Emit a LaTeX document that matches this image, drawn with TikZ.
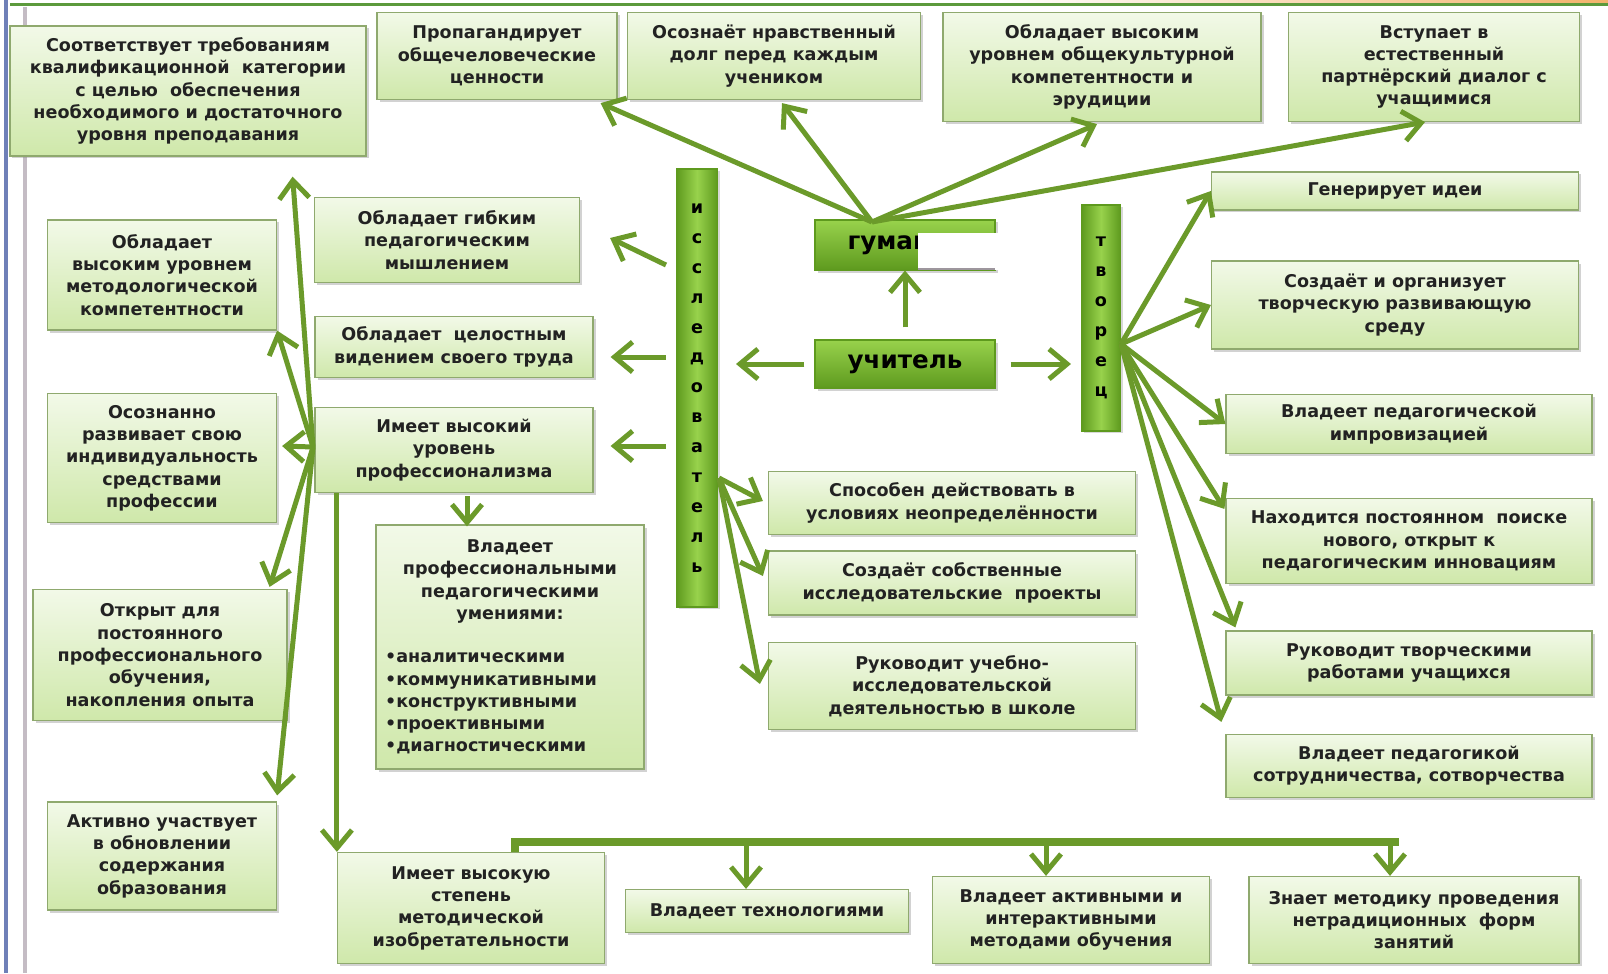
\documentclass[tikz,border=0pt]{standalone}
\usepackage{fontspec}
\setmainfont{DejaVu Sans}
\usetikzlibrary{arrows.meta,shadows,calc}
\definecolor{leaf}{HTML}{6B9A2A}
\definecolor{boxtop}{HTML}{F2F9E8}
\definecolor{boxbot}{HTML}{CFE8AA}
\definecolor{boxline}{HTML}{8FA96E}
\definecolor{barlight}{HTML}{98D24C}
\definecolor{bardark}{HTML}{5E9A1E}
\definecolor{inktext}{HTML}{222222}
\definecolor{slideblue}{HTML}{6F80B8}
\definecolor{slidegray}{HTML}{C4BCC4}
\definecolor{slidegreen}{HTML}{5C9A3C}
\definecolor{slidepeach}{HTML}{F3B36B}

\begin{document}
\begin{tikzpicture}[
    x=0.02cm, y=-0.02cm,
    wh/.style 2 args={minimum width=#1*0.02cm, minimum height=#2*0.02cm},
    box/.style={draw=boxline, line width=0.7pt, top color=boxtop, bottom color=boxbot,
                text=inktext, align=center, inner sep=1pt,
                font=\bfseries\fontsize{10}{12.7}\selectfont,
                drop shadow={shadow xshift=0.05cm, shadow yshift=-0.05cm, opacity=0.35}},
    bar/.style={draw=bardark, line width=0.6pt, left color=bardark, right color=bardark,
                middle color=barlight, align=center, inner sep=0pt, text=black,
                font=\bfseries\fontsize{10}{17}\selectfont,
                drop shadow={shadow xshift=0.04cm, shadow yshift=-0.04cm, opacity=0.3}},
    hub/.style={draw=bardark, line width=0.6pt, top color=barlight, bottom color=bardark,
                text=black, font=\bfseries\fontsize{14}{17}\selectfont,
                drop shadow={shadow xshift=0.05cm, shadow yshift=-0.05cm, opacity=0.35}},
    arr/.style={leaf, line width=0.1cm, -{Straight Barb[length=0.36cm, width=0.6cm]}},
    bus/.style={leaf, line width=0.15cm}
  ]
    \useasboundingbox (0,0) rectangle (1608,973);
    \fill[white] (0,0) rectangle (1608,973);
    \shade[left color=white, right color=slidepeach] (1000,0) rectangle (1608,4);
    \draw[slidegreen, line width=0.06cm] (10,5) -- (1608,5);
    \draw[slideblue, line width=0.09cm] (6,0) -- (6,973);
    \draw[slidegray, line width=0.07cm] (25,7) -- (25,973);

    \node[box, wh={356}{130}] (qual)    at (188,91)  {Соответствует требованиям\\квалификационной\ \ категории\\с целью\ \ обеспечения\\необходимого и достаточного\\уровня преподавания};
    \node[box, wh={240}{87}]  (propag)  at (497,56)  {Пропагандирует\\общечеловеческие\\ценности};
    \node[box, wh={293}{87}]  (duty)    at (774,56)  {Осознаёт нравственный\\долг перед каждым\\учеником};
    \node[box, wh={318}{109}] (culture) at (1102,67) {Обладает высоким\\уровнем общекультурной\\компетентности и\\эрудиции};
    \node[box, wh={291}{109}] (dialog)  at (1434,67) {Вступает в\\естественный\\партнёрский диалог с\\учащимися};

    \node[box, wh={229}{110}] (method)    at (162,275) {Обладает\\высоким уровнем\\методологической\\компетентности};
    \node[box, wh={229}{129}] (individ)   at (162,458) {Осознанно\\развивает свою\\индивидуальность\\средствами\\профессии};
    \node[box, wh={254}{131}] (openlearn) at (160,655) {Открыт для\\постоянного\\профессионального\\обучения,\\накопления опыта};
    \node[box, wh={229}{108}] (renew)     at (162,856) {Активно участвует\\в обновлении\\содержания\\образования};

    \node[box, wh={265}{85}]  (flexible) at (447,240) {Обладает гибким\\педагогическим\\мышлением};
    \node[box, wh={278}{61}]  (holistic) at (454,347) {Обладает\ \ целостным\\видением своего труда};
    \node[box, wh={278}{85}]  (profi)    at (454,450) {Имеет высокий\\уровень\\профессионализма};
    \node[box, wh={268}{244}] (skills)   at (510,647) {Владеет\\профессиональными\\педагогическими\\умениями:\\[12pt]
        \makebox[5cm][l]{•аналитическими}\\\makebox[5cm][l]{•коммуникативными}\\\makebox[5cm][l]{•конструктивными}\\\makebox[5cm][l]{•проективными}\\\makebox[5cm][l]{•диагностическими}};
    \node[box, wh={267}{111}] (invent)   at (471,908) {Имеет высокую\\степень\\методической\\изобретательности};

    \node[bar, wh={41}{438}] (research) at (697,388) {и\\с\\с\\л\\е\\д\\о\\в\\а\\т\\е\\л\\ь};
    \node[bar, wh={39}{226}] (creator)  at (1101,318) {т\\в\\о\\р\\е\\ц};

    \node[hub, wh={180}{50}, text width=2.3cm, inner xsep=0.64cm, align=left] (human) at (905,245) {гуман};
    \node[hub, wh={180}{48}] (teacher) at (905,364) {учитель};
    \fill[white] (918,233) rectangle (1002,270);
    \draw[slidegray!80!black, line width=0.6pt] (918,269) -- (995,269);

    \node[box, wh={367}{63}] (uncertain) at (952,503) {Способен действовать в\\условиях неопределённости};
    \node[box, wh={367}{64}] (projects)  at (952,583) {Создаёт собственные\\исследовательские\ \ проекты};
    \node[box, wh={367}{87}] (leads)     at (952,686) {Руководит учебно-\\исследовательской\\деятельностью в школе};

    \node[box, wh={367}{38}] (ideas)       at (1395,191) {Генерирует идеи};
    \node[box, wh={367}{88}] (environment) at (1395,305) {Создаёт и организует\\творческую развивающую\\среду};
    \node[box, wh={366}{59}] (improv)      at (1409,424) {Владеет педагогической\\импровизацией};
    \node[box, wh={366}{85}] (innov)       at (1409,541) {Находится постоянном\ \ поиске\\нового, открыт к\\педагогическим инновациям};
    \node[box, wh={366}{64}] (creative)    at (1409,663) {Руководит творческими\\работами учащихся};
    \node[box, wh={366}{63}] (coop)        at (1409,766) {Владеет педагогикой\\сотрудничества, сотворчества};

    \node[box, wh={283}{43}] (techn)   at (767,911)  {Владеет технологиями};
    \node[box, wh={277}{87}] (active)  at (1071,920) {Владеет активными и\\интерактивными\\методами обучения};
    \node[box, wh={330}{87}] (nontrad) at (1414,920) {Знает методику проведения\\нетрадиционных\ \ форм\\занятий};

    \coordinate (top)    at (872,222);
    \coordinate (fan)    at (1121,344);
    \coordinate (spread) at (313,447);
    \coordinate (resfan) at (719,478);

    \draw[arr] (top) -- ($(propag.south east)+(-17,3)$);
    \draw[arr] (top) -- ($(duty.south)+(8,3)$);
    \draw[arr] (top) -- ($(culture.south)+(-5,2)$);
    \draw[arr] (top) -- ($(dialog.south)+(-9,0)$);

    \draw[arr, shorten <=0.24cm] (teacher.north) -- (human.south);
    \draw[arr, shorten <=0.2cm, shorten >=0.36cm] (teacher.west) -- (teacher.west -| research.east);
    \draw[arr, shorten <=0.3cm, shorten >=0.2cm] (teacher.east) -- (teacher.east -| creator.west);

    \draw[arr] ($(research.west)+(-10,-123)$) -- ($(flexible.east)+(30,-2)$);
    \draw[arr] ($(research.west)+(-10,-31)$)  -- ($(holistic.east)+(17,10)$);
    \draw[arr] ($(research.west)+(-10,58)$)   -- ($(profi.east)+(17,-4)$);

    \draw[arr] (resfan) -- ($(uncertain.west)+(-5,-2)$);
    \draw[arr] (resfan) -- ($(projects.west)+(-5,-7)$);
    \draw[arr] (resfan) -- ($(leads.west)+(-8,-2)$);

    \draw[arr] (fan) -- (ideas.west);
    \draw[arr] (fan) -- (environment.west);
    \draw[arr] (fan) -- (improv.west);
    \draw[arr] (fan) -- ($(innov.north west)+(-1,11)$);
    \draw[arr] (fan) -- ($(creative.north west)+(10,-3)$);
    \draw[arr] (fan) -- ($(coop.north west)+(-4,-12)$);

    \draw[arr] (spread) -- ($(qual.south east)+(-74,20)$);
    \draw[arr] (spread) -- (method.south east);
    \draw[arr] (spread) -- ($(individ.east)+(5,-12)$);
    \draw[arr] (spread) -- ($(openlearn.north east)+(-18,-2)$);
    \draw[arr] (spread) -- ($(renew.north east)+(0,-6)$);

    \draw[arr] (profi.south -| invent.north west) -- (invent.north west);
    \draw[arr] ($(profi.south)+(13,3)$) -- ($(skills.north)+(-43,2)$);

    \draw[bus] ($(invent.north west)+(178,0)$) -- ++(0,-10) -- ++(884,0);
    \draw[arr] ($(techn.north)+(-21,-47)$)   -- ($(techn.north)+(-21,0)$);
    \draw[arr] ($(active.north)+(-25,-34)$)  -- ($(active.north)+(-25,0)$);
    \draw[arr] ($(nontrad.north)+(-24,-34)$) -- ($(nontrad.north)+(-24,0)$);
  \end{tikzpicture}
\end{document}
